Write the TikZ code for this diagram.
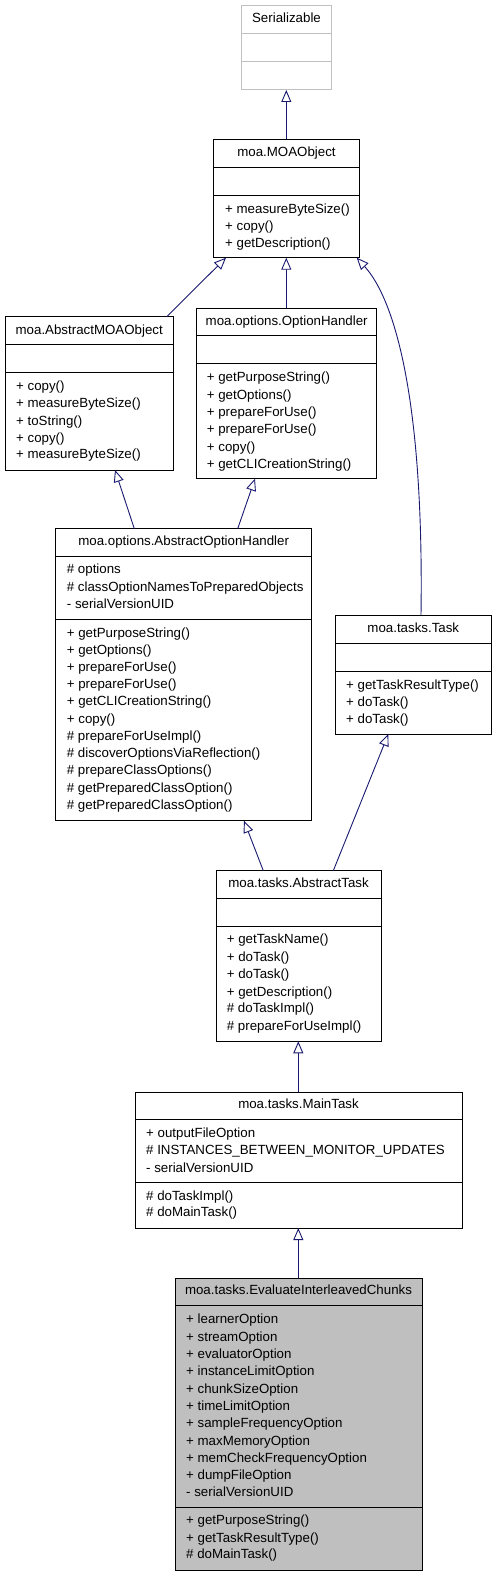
\documentclass[tikz,border=0pt]{standalone}
\usepackage{fontspec}
\setmainfont{Liberation Sans}
\usetikzlibrary{arrows.meta,fit}
\definecolor{edgeblue}{HTML}{191970}
\definecolor{boxgray}{HTML}{BFBFBF}
\definecolor{lightborder}{HTML}{C0C0C0}
\newcounter{lnum}
\tikzset{
  cls/.style={draw=black, line width=1pt, fill=white, inner sep=0pt, outer sep=0pt},
  clsgray/.style={cls, fill=boxgray},
  clslight/.style={cls, draw=lightborder},
  divst/.style={draw=black, line width=1pt},
  divlight/.style={draw=lightborder, line width=1pt},
  txt/.style={anchor=base west, inner sep=0pt, yshift=-4.4pt, font=\fontsize{13.3}{16}\selectfont},
  ttl/.style={anchor=base, inner sep=0pt, yshift=-4.4pt, font=\fontsize{13.3}{16}\selectfont},
  inh/.style={draw=edgeblue, line width=0.9pt, -{Triangle[length=12pt, width=10pt, fill=white]}},
}
\newcommand\umlbox[6]{%
  \coordinate (#1-nw) at (#2,#3);
  \coordinate (#1-se) at (#4,#5);
  \node[#6, fit=(#1-nw)(#1-se)] (#1) {};}
\newcommand\divl[3][divst]{\draw[#1] (#2.west |- 0,#3) -- (#2.east |- 0,#3);}
\newcommand\mline[3]{\stepcounter{lnum}\node[txt] (ln\arabic{lnum}) at (#1,#2) {#3};}
\newcommand\mtitle[3]{\stepcounter{lnum}\node[ttl] (ln\arabic{lnum}) at (#1,#2) {#3};}
\begin{document}
\begin{tikzpicture}[x=1pt,y=-1pt]
\useasboundingbox (0,0) rectangle (496,1576);

% Serializable
\umlbox{ser}{241.7}{5.7}{331.3}{90}{clslight}
\divl[divlight]{ser}{33.3}
\divl[divlight]{ser}{61.7}
\mtitle{286.5}{18.6}{Serializable}

% MOAObject
\umlbox{moa}{213.7}{139.3}{359.3}{257.7}{cls}
\divl{moa}{167}
\divl{moa}{195.3}
\mtitle{286.5}{152.3}{moa.MOAObject}
\mline{225}{209}{+ measureByteSize()}
\mline{225}{226}{+ copy()}
\mline{225}{242.7}{+ getDescription()}

% AbstractMOAObject
\umlbox{amoa}{5}{316.7}{173.3}{470}{cls}
\divl{amoa}{344.3}
\divl{amoa}{372.3}
\mtitle{89.2}{329.7}{moa.AbstractMOAObject}
\mline{16}{386}{+ copy()}
\mline{16}{403}{+ measureByteSize()}
\mline{16}{420.7}{+ toString()}
\mline{16}{437.7}{+ copy()}
\mline{16}{454.3}{+ measureByteSize()}

% OptionHandler
\umlbox{oh}{196.7}{308}{376.7}{478.7}{cls}
\divl{oh}{335.7}
\divl{oh}{363.7}
\mtitle{286.7}{320.7}{moa.options.OptionHandler}
\mline{206.7}{376.7}{+ getPurposeString()}
\mline{206.7}{394.7}{+ getOptions()}
\mline{206.7}{411.7}{+ prepareForUse()}
\mline{206.7}{428.7}{+ prepareForUse()}
\mline{206.7}{446.7}{+ copy()}
\mline{206.7}{463.7}{+ getCLICreationString()}

% AbstractOptionHandler
\umlbox{aoh}{55.7}{528.7}{311.7}{820.7}{cls}
\divl{aoh}{556.7}
\divl{aoh}{619}
\mtitle{183.7}{541.3}{moa.options.AbstractOptionHandler}
\mline{66.7}{569.3}{\# options}
\mline{66.7}{586.7}{\# classOptionNamesToPreparedObjects}
\mline{66.7}{604.3}{- serialVersionUID}
\mline{66.7}{632.7}{+ getPurposeString()}
\mline{66.7}{649.7}{+ getOptions()}
\mline{66.7}{666.7}{+ prepareForUse()}
\mline{66.7}{684.3}{+ prepareForUse()}
\mline{66.7}{701.3}{+ getCLICreationString()}
\mline{66.7}{718.7}{+ copy()}
\mline{66.7}{736.3}{\# prepareForUseImpl()}
\mline{66.7}{753.3}{\# discoverOptionsViaReflection()}
\mline{66.7}{770.3}{\# prepareClassOptions()}
\mline{66.7}{788.3}{\# getPreparedClassOption()}
\mline{66.7}{805.3}{\# getPreparedClassOption()}

% Task
\umlbox{task}{335}{615}{491.7}{734}{cls}
\divl{task}{643}
\divl{task}{671.3}
\mtitle{413.3}{628.3}{moa.tasks.Task}
\mline{346}{684.7}{+ getTaskResultType()}
\mline{346}{701.7}{+ doTask()}
\mline{346}{718.7}{+ doTask()}

% AbstractTask
\umlbox{at}{216}{870.7}{381}{1041.3}{cls}
\divl{at}{898.7}
\divl{at}{926.7}
\mtitle{298.5}{883.3}{moa.tasks.AbstractTask}
\mline{226.7}{939.3}{+ getTaskName()}
\mline{226.7}{956.7}{+ doTask()}
\mline{226.7}{974.3}{+ doTask()}
\mline{226.7}{991.7}{+ getDescription()}
\mline{226.7}{1008.3}{\# doTaskImpl()}
\mline{226.7}{1026.3}{\# prepareForUseImpl()}

% MainTask
\umlbox{mt}{135}{1092}{462}{1228}{cls}
\divl{mt}{1119.7}
\divl{mt}{1182.7}
\mtitle{298.5}{1104.3}{moa.tasks.MainTask}
\mline{146}{1132.7}{+ outputFileOption}
\mline{146}{1150.3}{\# INSTANCES\_BETWEEN\_MONITOR\_UPDATES}
\mline{146}{1167.7}{- serialVersionUID}
\mline{146}{1195.7}{\# doTaskImpl()}
\mline{146}{1212.3}{\# doMainTask()}

% EvaluateInterleavedChunks
\umlbox{eic}{175}{1278}{422}{1570}{clsgray}
\divl{eic}{1305.7}
\divl{eic}{1507.3}
\mtitle{298.5}{1290.3}{moa.tasks.EvaluateInterleavedChunks}
\mline{186}{1318.7}{+ learnerOption}
\mline{186}{1336.7}{+ streamOption}
\mline{186}{1353.7}{+ evaluatorOption}
\mline{186}{1370.7}{+ instanceLimitOption}
\mline{186}{1388.7}{+ chunkSizeOption}
\mline{186}{1405.7}{+ timeLimitOption}
\mline{186}{1422.7}{+ sampleFrequencyOption}
\mline{186}{1440.7}{+ maxMemoryOption}
\mline{186}{1457.7}{+ memCheckFrequencyOption}
\mline{186}{1474.7}{+ dumpFileOption}
\mline{186}{1492.3}{- serialVersionUID}
\mline{186}{1520}{+ getPurposeString()}
\mline{186}{1537.7}{+ getTaskResultType()}
\mline{186}{1554.3}{\# doMainTask()}

% Inheritance connectors
\draw[inh] (286.3,0 |- moa.north) -- (286.3,0 |- ser.south);
\draw[inh] (166.7,0 |- amoa.north) -- (226,0 |- moa.south);
\draw[inh] (286.3,0 |- oh.north) -- (286.3,0 |- moa.south);
\draw[inh] (421,0 |- task.north) .. controls (424,400) and (395,300) .. (356.7,0 |- moa.south);
\draw[inh] (134.3,0 |- aoh.north) -- (115,0 |- amoa.south);
\draw[inh] (237.7,0 |- aoh.north) -- (255,0 |- oh.south);
\draw[inh] (263.3,0 |- at.north) -- (244,0 |- aoh.south);
\draw[inh] (333.3,0 |- at.north) -- (388.3,0 |- task.south);
\draw[inh] (298.3,0 |- mt.north) -- (298.3,0 |- at.south);
\draw[inh] (298.3,0 |- eic.north) -- (298.3,0 |- mt.south);
\end{tikzpicture}
\end{document}
